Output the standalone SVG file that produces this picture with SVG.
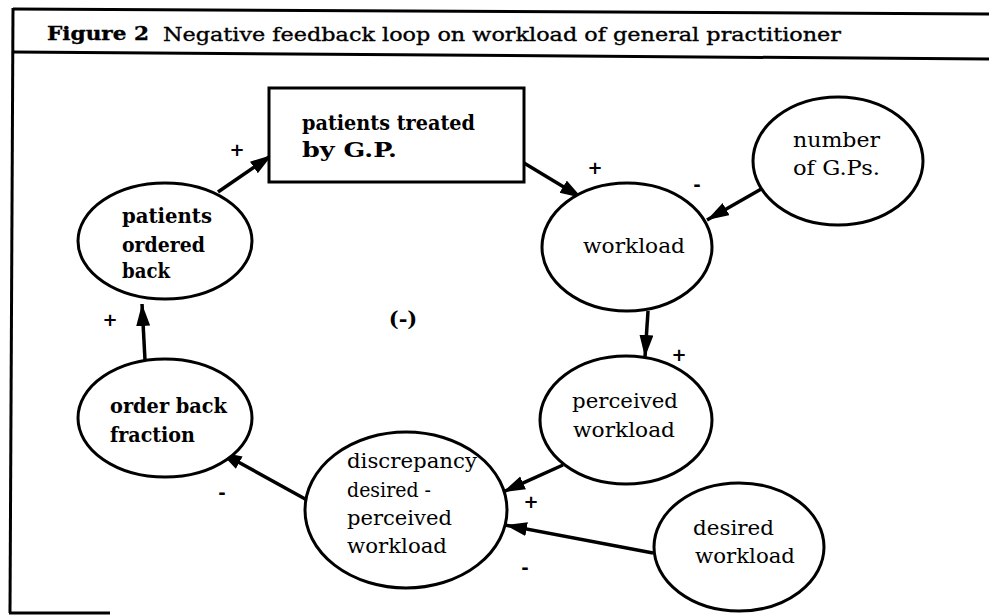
<svg xmlns="http://www.w3.org/2000/svg" width="989" height="615" viewBox="0 0 989 615">
<style>
.frame{stroke:#000;stroke-width:3;fill:none}
.node{fill:#fff;stroke:#000;stroke-width:3}
.t{font-family:"DejaVu Serif","Liberation Serif",serif;font-size:21px;fill:#000}
.b{font-weight:bold}
.title{font-family:"DejaVu Serif","Liberation Serif",serif;font-size:18.5px;fill:#000;stroke:#000;stroke-width:0.35}
.edge{stroke:#000;stroke-width:3.5;fill:none;marker-end:url(#ah)}
.sign{font-family:"DejaVu Sans","Liberation Sans",sans-serif;font-size:18px;font-weight:bold;fill:#000;text-anchor:middle}
</style>
<defs>
<marker id="ah" markerUnits="userSpaceOnUse" markerWidth="24" markerHeight="16" refX="22" refY="7" orient="auto">
<path d="M0,0 L22,7 L0,14 z" fill="#000"/>
</marker>
</defs>
<rect width="989" height="615" fill="#fff"/>
<g id="frame">
<line class="frame" x1="13" y1="9" x2="989" y2="14"/>
<line class="frame" x1="13" y1="52" x2="989" y2="59"/>
<line class="frame" x1="13" y1="8" x2="10" y2="613"/>
<line class="frame" x1="9" y1="613" x2="110" y2="613"/>
<text class="title" x="47" y="40"><tspan font-weight="bold" textLength="102" lengthAdjust="spacingAndGlyphs">Figure 2</tspan></text>
<text class="title" x="163" y="41" textLength="678" lengthAdjust="spacingAndGlyphs">Negative feedback loop on workload of general practitioner</text>
</g>
<g id="connectors">
<line class="edge" x1="218" y1="192" x2="272" y2="155"/>
<line class="edge" x1="524" y1="163" x2="582" y2="198"/>
<line class="edge" x1="763" y1="188" x2="707" y2="220"/>
<line class="edge" x1="648" y1="311" x2="645" y2="357"/>
<line class="edge" x1="563" y1="465" x2="503" y2="492"/>
<line class="edge" x1="653" y1="553" x2="505" y2="525"/>
<line class="edge" x1="307" y1="500" x2="220" y2="452"/>
<line class="edge" x1="145" y1="360" x2="142" y2="304"/>
</g>
<g id="signs">
<text class="sign" x="237" y="156">+</text>
<text class="sign" x="595" y="174">+</text>
<text class="sign" x="697" y="191">-</text>
<text class="sign" x="679" y="361">+</text>
<text class="sign" x="531" y="508">+</text>
<text class="sign" x="525" y="574">-</text>
<text class="sign" x="222" y="499">-</text>
<text class="sign" x="110" y="326">+</text>
<text class="t b" x="403" y="326" text-anchor="middle">(-)</text>
</g>
<g id="n-treated">
<rect class="node" x="269" y="88" width="255" height="94"/>
<text class="t b" x="302" y="130" textLength="173" lengthAdjust="spacingAndGlyphs">patients treated</text>
<text class="t b" x="302" y="157" textLength="95" lengthAdjust="spacingAndGlyphs">by G.P.</text>
</g>
<g id="n-ordered">
<ellipse class="node" cx="165" cy="241" rx="87" ry="58"/>
<text class="t b" x="122" y="223" textLength="90" lengthAdjust="spacingAndGlyphs">patients</text>
<text class="t b" x="122" y="252" textLength="83" lengthAdjust="spacingAndGlyphs">ordered</text>
<text class="t b" x="122" y="278" textLength="48" lengthAdjust="spacingAndGlyphs">back</text>
</g>
<g id="n-workload">
<ellipse class="node" cx="627" cy="247" rx="85" ry="64"/>
<text class="t" x="583" y="253" textLength="102" lengthAdjust="spacingAndGlyphs">workload</text>
</g>
<g id="n-number">
<ellipse class="node" cx="838" cy="161" rx="85" ry="64"/>
<text class="t" x="793" y="147" textLength="87" lengthAdjust="spacingAndGlyphs">number</text>
<text class="t" x="793" y="175" textLength="87" lengthAdjust="spacingAndGlyphs">of G.Ps.</text>
</g>
<g id="n-perceived">
<ellipse class="node" cx="626" cy="420" rx="86" ry="64"/>
<text class="t" x="572" y="408" textLength="106" lengthAdjust="spacingAndGlyphs">perceived</text>
<text class="t" x="573" y="437" textLength="102" lengthAdjust="spacingAndGlyphs">workload</text>
</g>
<g id="n-desired">
<ellipse class="node" cx="739" cy="547" rx="85" ry="64"/>
<text class="t" x="693" y="535" textLength="81" lengthAdjust="spacingAndGlyphs">desired</text>
<text class="t" x="695" y="563" textLength="100" lengthAdjust="spacingAndGlyphs">workload</text>
</g>
<g id="n-fraction">
<ellipse class="node" cx="165" cy="418" rx="87" ry="59"/>
<text class="t b" x="110" y="413" textLength="117" lengthAdjust="spacingAndGlyphs">order back</text>
<text class="t b" x="110" y="442" textLength="85" lengthAdjust="spacingAndGlyphs">fraction</text>
</g>
<g id="n-discrepancy">
<ellipse class="node" cx="406" cy="510" rx="101" ry="78"/>
<text class="t" x="347" y="468" textLength="130" lengthAdjust="spacingAndGlyphs">discrepancy</text>
<text class="t" x="347" y="497" textLength="84" lengthAdjust="spacingAndGlyphs">desired -</text>
<text class="t" x="347" y="525" textLength="105" lengthAdjust="spacingAndGlyphs">perceived</text>
<text class="t" x="347" y="553" textLength="100" lengthAdjust="spacingAndGlyphs">workload</text>
</g>
</svg>
